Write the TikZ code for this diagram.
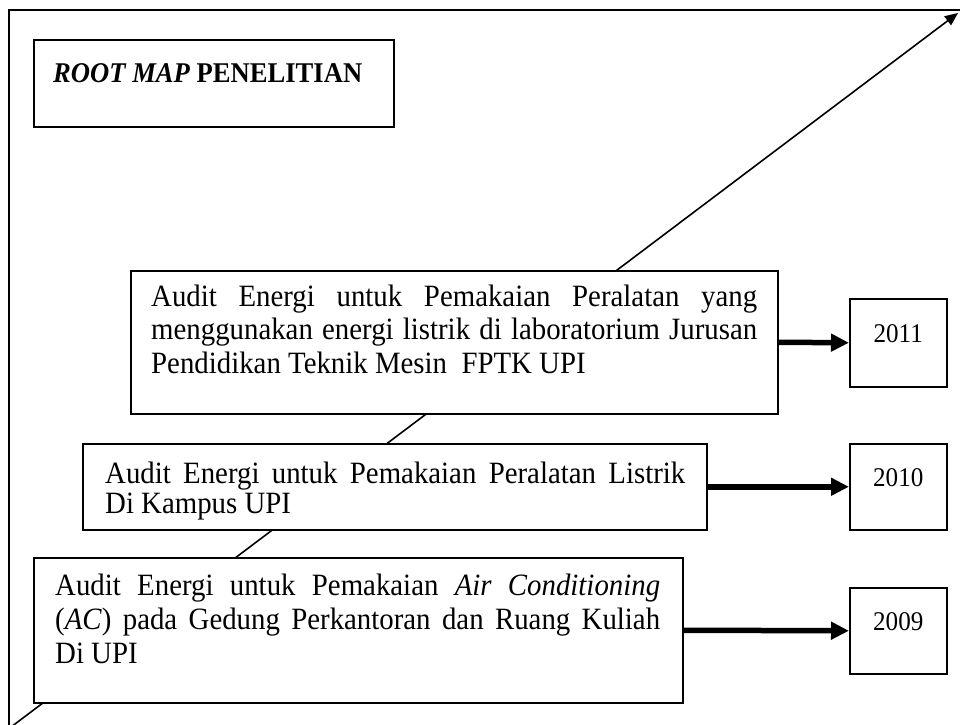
\documentclass[tikz,border=0pt]{standalone}
\usepackage{graphicx}
\usepackage{fontspec}
\setmainfont{Liberation Serif}
\usetikzlibrary{arrows.meta}
\hbadness=10000
\hfuzz=20pt
\tolerance=10000
\tikzset{
  box/.style={draw=black, line width=1.5pt, fill=white, inner sep=0pt, anchor=north west},
  txt/.style={inner sep=0pt, anchor=base west},
  yearbox/.style={box, minimum width=97pt, text height=9.5pt, text depth=9.5pt, font=\fontsize{27pt}{33pt}\selectfont},
  bigarrow/.style={line width=5.5pt, -{Triangle[length=18pt,width=17pt]}},
  diagarrow/.style={line width=1.6pt, -{Triangle[length=13pt,width=11pt]}},
  frameline/.style={line width=1.5pt}
}
\newcommand{\narrow}[1]{\scalebox{0.93}[1]{#1}}
\newcommand{\boxtext}[3]{\narrow{\parbox[t]{#1}{\fontsize{31pt}{#2}\selectfont #3}}}
\begin{document}
\begin{tikzpicture}[x=1pt,y=-1pt]
\useasboundingbox (0,0) rectangle (960,724);
\clip (0,0) rectangle (960,724);
\fill[white] (0,0) rectangle (960,724);
% outer frame (only top and left visible)
\draw[frameline] (9,740) -- (9,10) -- (980,10);
% diagonal arrow
\coordinate (dstart) at (11,727);
\coordinate (dend) at (958,13);
\draw[diagarrow] (dstart) -- (dend);
% title box
\node[box, minimum width=360pt, minimum height=87pt] (root) at (33,39) {};
\node[txt] (troot) at (53,82) {\narrow{\fontsize{28.6pt}{32pt}\selectfont\bfseries\textit{ROOT MAP} PENELITIAN}};
% 2011
\node[box, minimum width=647pt, minimum height=143pt] (b11) at (130,270) {};
\node[txt] (t11) at (151,306) {\boxtext{651.6pt}{33.5pt}{Audit Energi untuk Pemakaian Peralatan yang\linebreak menggunakan energi listrik di laboratorium Jurusan\linebreak Pendidikan Teknik Mesin\ \ FPTK UPI}};
\node[yearbox, minimum height=88pt] (y11) at (849,298) {\narrow{2011}};
% 2010
\node[box, minimum width=624pt, minimum height=86pt] (b10) at (82,443) {};
\node[txt] (t10) at (105,483) {\boxtext{623.7pt}{30.5pt}{Audit Energi untuk Pemakaian Peralatan Listrik\linebreak Di Kampus UPI}};
\node[yearbox, minimum height=86pt] (y10) at (849,443) {\narrow{2010}};
% 2009
\node[box, minimum width=649pt, minimum height=145pt] (b09) at (33,557) {};
\node[txt] (t09) at (55,595) {\boxtext{650.5pt}{34pt}{Audit Energi untuk Pemakaian \textit{Air Conditioning}\linebreak (\textit{AC}) pada Gedung Perkantoran dan Ruang Kuliah\linebreak Di UPI}};
\node[yearbox, minimum height=86pt] (y09) at (849,587) {\narrow{2009}};
% arrows
\draw[bigarrow] (b11.east) -- (y11.west);
\draw[bigarrow] (b10.east) -- (y10.west);
\draw[bigarrow] (b09.east) -- (y09.west);
\end{tikzpicture}
\end{document}
